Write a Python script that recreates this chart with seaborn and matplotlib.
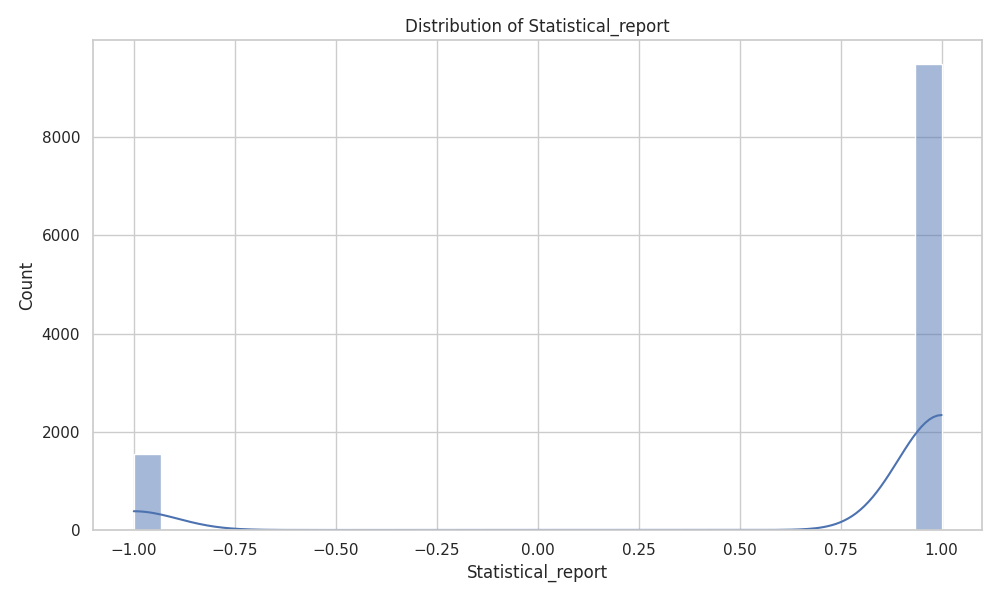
import numpy as np
import pandas as pd
import matplotlib
matplotlib.use("Agg")
import matplotlib.pyplot as plt
import seaborn as sns

# --------------------------------------------------
# DATA (counts)
# --------------------------------------------------

values = [-1, 1]
counts = [1550, 9500]

df = pd.DataFrame({
    "Statistical_report": np.repeat(values, counts)
})

# --------------------------------------------------
# PLOT
# --------------------------------------------------

sns.set_theme(style="whitegrid")

plt.figure(figsize=(10, 6))

sns.histplot(
    df["Statistical_report"],
    bins=30,
    kde=True
)

plt.title("Distribution of Statistical_report")
plt.xlabel("Statistical_report")
plt.ylabel("Count")

plt.tight_layout()
plt.savefig("out.png", dpi=100)
plt.close()
